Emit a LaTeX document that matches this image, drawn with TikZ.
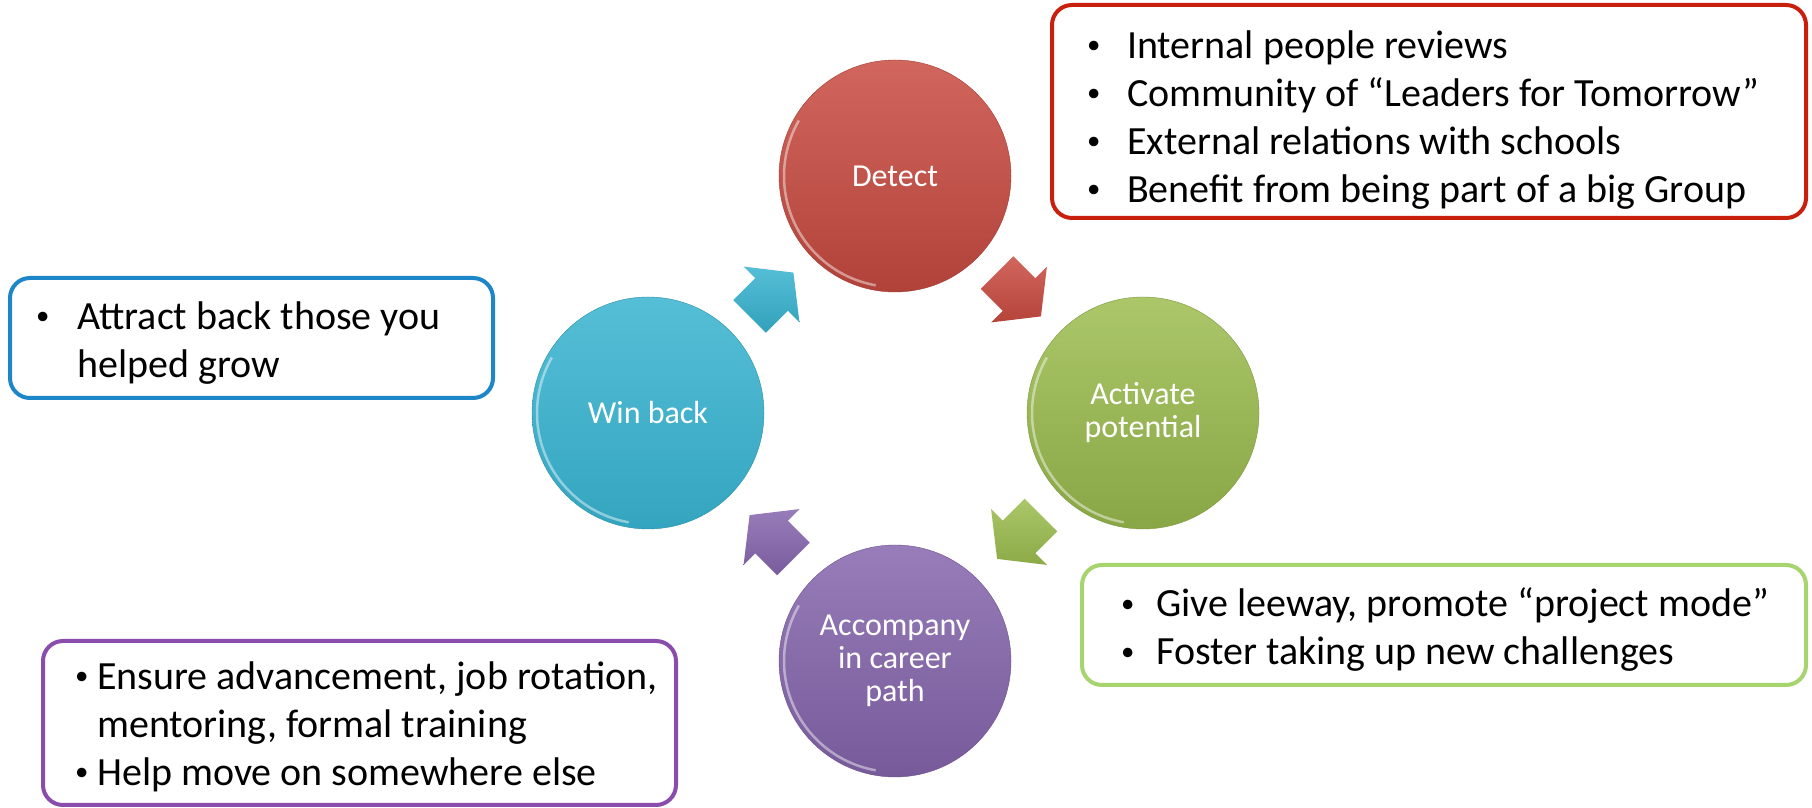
\documentclass[tikz,border=0pt]{standalone}
\usepackage{fontspec}
\setmainfont{Carlito}
\usepackage{xcolor}
\usepackage{tikz}
\usetikzlibrary{calc}

\definecolor{detcol}{HTML}{C94B41}
\definecolor{wincol}{HTML}{38B3D0}
\definecolor{actcol}{HTML}{9CBD4F}
\definecolor{acccol}{HTML}{8666AE}
\definecolor{detline}{HTML}{C9200E}
\definecolor{winline}{HTML}{1C86C8}
\definecolor{actline}{HTML}{A6D46E}
\definecolor{accline}{HTML}{8A4DAB}

\newcommand{\bul}[1][40pt]{\makebox[#1][l]{\raisebox{4.5pt}{\scalebox{0.67}{\textbullet}}}}

\tikzset{
  stage/.style={circle, minimum size=232, inner sep=0, text=white,
                align=center, font=\fontsize{32}{33}\selectfont},
  notebox/.style={draw, rounded corners=20, line width=4, fill=white},
  notetext/.style={anchor=west, align=left, inner sep=0,
                   font=\fontsize{40}{48}\selectfont},
}

\begin{document}
\begin{tikzpicture}[x=1pt, y=1pt]
\useasboundingbox (0,0) rectangle (1812,808);

% the four stages
\node[stage, top color=detcol!85!white, bottom color=detcol!88!black,
      draw=detcol!80!black] (detect) at (895,632) {Detect};
\node[stage, top color=wincol!85!white, bottom color=wincol!92!black,
      draw=wincol!80!black] (win) at (648,395) {Win back};
\node[stage, top color=actcol!85!white, bottom color=actcol!88!black,
      draw=actcol!80!black] (act) at (1143,395) {Activate\\potential};
\node[stage, top color=acccol!85!white, bottom color=acccol!88!black,
      draw=acccol!80!black] (acc) at (895,147) {Accompany\\in career\\path};

% bevel light on the rims
\foreach \n in {detect,win,act,acc}
  \draw[white, opacity=.45, line width=2.5]
    ($(\n.center)+(150:111)$) arc[start angle=150, end angle=260, radius=111];

% block arrows between the stages
\foreach \from/\to/\ang/\col in {win/detect/45/wincol, detect/act/-45/detcol,
                                 act/acc/-135/actcol, acc/win/135/acccol}
  \shade[top color=\col!85!white, bottom color=\col!90!black,
         shift={($(\from)!0.5!(\to)$)}, rotate=\ang]
    (-31,-23) -- (0,-23) -- (0,-39.5) -- (31,0) -- (0,39.5) -- (0,23)
    -- (-31,23) -- cycle;

% note boxes
\node[notebox, draw=detline, minimum width=754, minimum height=213]
  (detbox) at (1429,696.5) {};
\node[notebox, draw=winline, minimum width=483, minimum height=120]
  (winbox) at (251.5,470) {};
\node[notebox, draw=actline, minimum width=724, minimum height=120]
  (actbox) at (1444,183) {};
\node[notebox, draw=accline, minimum width=633, minimum height=164]
  (accbox) at (359.5,85) {};

% their texts
\node[notetext] (dettext) at ([xshift=37, yshift=-8.5]detbox.west)
  {\bul Internal people reviews\\
   \bul Community of “Leaders for Tomorrow”\\
   \bul External relations with schools\\
   \bul Benefit from being part of a big Group};
\node[notetext] (wintext) at ([xshift=28, yshift=-5]winbox.west)
  {\bul[41pt]Attract back those you\\
   \hspace*{41pt}helped grow};
\node[notetext] (acttext) at ([xshift=41, yshift=-5]actbox.west)
  {\bul[35pt]Give leeway, promote “project mode”\\
   \bul[35pt]Foster taking up new challenges};
\node[notetext] (acctext) at ([xshift=34, yshift=-3.5]accbox.west)
  {\bul[22pt]Ensure advancement, job rotation,\\
   \hspace*{22pt}mentoring, formal training\\
   \bul[22pt]Help move on somewhere else};
\end{tikzpicture}
\end{document}
